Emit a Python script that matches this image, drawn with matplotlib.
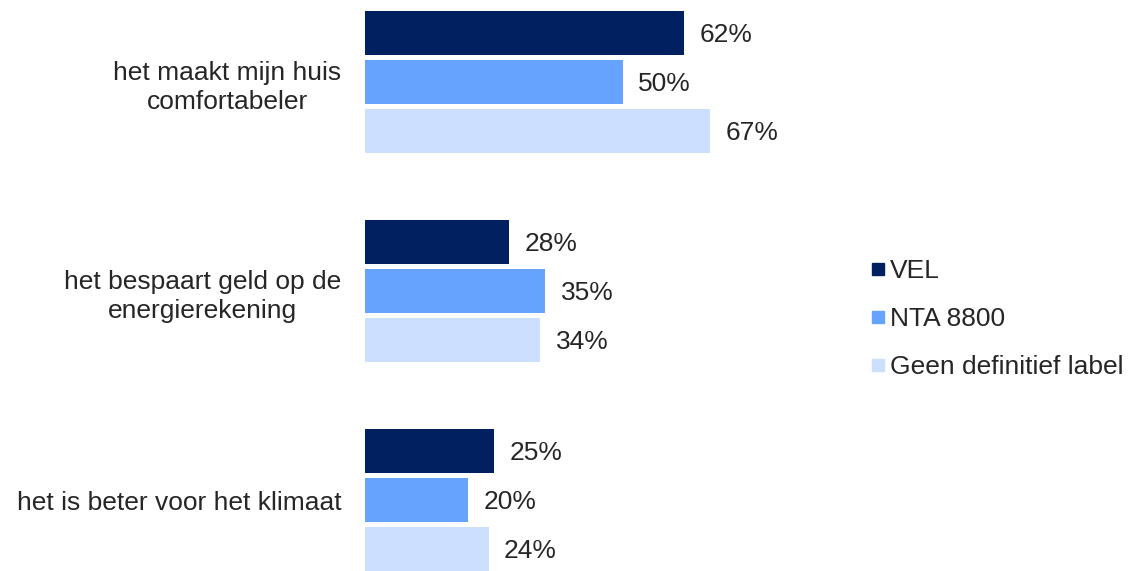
import matplotlib.pyplot as plt
from matplotlib.lines import Line2D

plt.rcParams['font.family'] = ['Liberation Sans', 'DejaVu Sans']

categories = ["het maakt mijn huis\ncomfortabeler",
              "het bespaart geld op de\nenergierekening",
              "het is beter voor het klimaat"]
series = ["VEL", "NTA 8800", "Geen definitief label"]
vel = [62, 28, 25]
nta = [50, 35, 20]
geen = [67, 34, 24]
kleuren = ["#002060", "#66A3FF", "#CCDFFF"]
tekstkleur = "#262626"

fig = plt.figure(figsize=(11.3, 5.71), dpi=100)
ax = fig.add_axes([365 / 1130, 0, 515 / 1130, 1])

bar_h = 44 / 209
offset = 49 / 209
for j, (naam, vals) in enumerate(zip(series, [vel, nta, geen])):
    ys = [i + (j - 1) * offset for i in range(len(categories))]
    ax.barh(ys, vals, height=bar_h, color=kleuren[j], label=naam)
    for y, v in zip(ys, vals):
        ax.text(v + 3, y + 0.01, f"{v}%", va="center", ha="left",
                fontsize=19, color=tekstkleur)

ax.set_xlim(0, 100)
ax.set_ylim((571 - 82) / 209, -82 / 209)
ax.set_yticks(range(len(categories)))
ax.set_yticklabels(categories, fontsize=19, color=tekstkleur,
                   multialignment="center", linespacing=1.3)
ax.tick_params(axis="y", length=0, pad=17)
ax.set_xticks([])
for s in ax.spines.values():
    s.set_visible(False)

handles = [Line2D([], [], marker="s", linestyle="none", markersize=9,
                  markerfacecolor=k, markeredgecolor=k) for k in kleuren]
leg = fig.legend(handles, series, loc="center left",
                 bbox_to_anchor=(853 / 1130, 1 - 319 / 571),
                 frameon=False, fontsize=19, handletextpad=0.0,
                 labelspacing=0.9, handlelength=0.9, borderpad=0)
for t in leg.get_texts():
    t.set_color(tekstkleur)

fig.savefig("out.png", dpi=100)
